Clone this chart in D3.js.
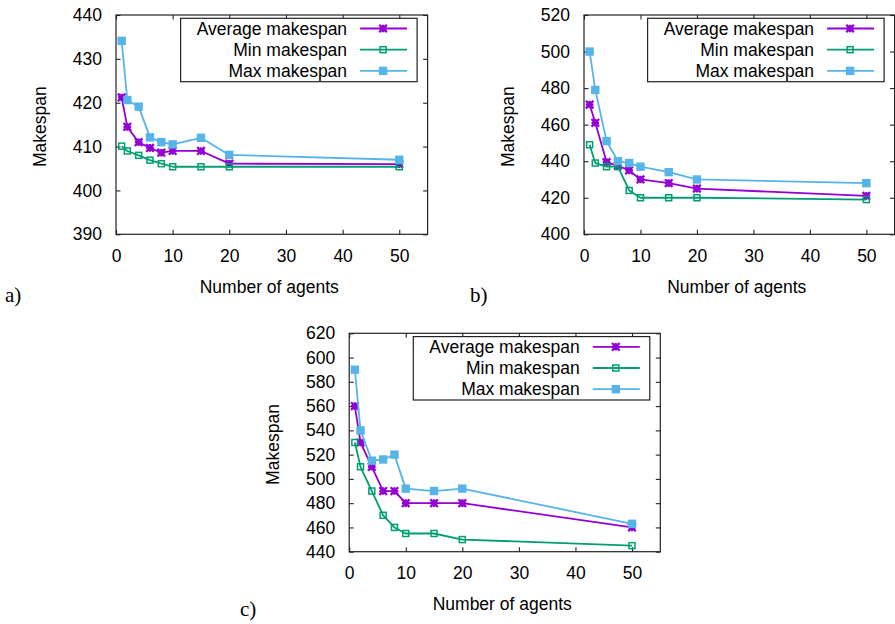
<!DOCTYPE html>
<html>
<head>
<meta charset="utf-8">
<script src="https://cdn.jsdelivr.net/npm/d3@7"></script>
<style>
  html, body { margin: 0; padding: 0; background: #ffffff; }
  svg { display: block; }
  text { font-family: "Liberation Sans", Arial, sans-serif; fill: #000; }
</style>
</head>
<body>
<svg id="chart" width="895" height="624"></svg>
<script>
// ---------------- DATA ----------------
const agents = [1, 2, 4, 6, 8, 10, 15, 20, 50];
const xTicks = [0, 10, 20, 30, 40, 50];
const seriesNames = ["Average makespan", "Min makespan", "Max makespan"];

// panel a
const avgA = [421.2, 414.5, 411.0, 409.7, 408.6, 409.0, 409.0, 406.1, 406.0];
const minA = [410.1, 409.0, 408.0, 406.9, 406.1, 405.4, 405.4, 405.4, 405.4];
const maxA = [434.1, 420.6, 419.1, 412.1, 411.0, 410.5, 412.0, 408.1, 407.0];
const yTicksA = [390, 400, 410, 420, 430, 440];

// panel b
const avgB = [471, 461, 439.5, 437.5, 435, 430, 428, 425, 421];
const minB = [449, 439, 437, 437, 424, 420, 420, 420, 419];
const maxB = [500, 479, 451, 440, 439, 437, 434, 430, 428];
const yTicksB = [400, 420, 440, 460, 480, 500, 520];

// panel c
const avgC = [560, 530, 510, 490, 490, 480, 480, 480, 460];
const minC = [530, 510, 490, 470, 460, 455, 455, 450, 445];
const maxC = [590, 540, 515, 516, 520, 492, 490, 492, 463];
const yTicksC = [440, 460, 480, 500, 520, 540, 560, 580, 600, 620];

const panelLabels = ["a)", "b)", "c)"];

// ---------------- STYLE ----------------
const colors = ["#9400d3", "#009e73", "#56b4e9"];
const markers = ["asterisk", "openSquare", "filledSquare"];
const FONT = 17.5;

const svg = d3.select("#chart");

function drawMarker(g, type, color) {
  if (type === "asterisk") {
    const r = 3.8;
    const p = `M${-r},0L${r},0M0,${-r}L0,${r}M${-r},${-r}L${r},${r}M${-r},${r}L${r},${-r}`;
    g.append("path").attr("d", p).attr("stroke", color).attr("stroke-width", 2.3).attr("fill", "none");
  } else if (type === "openSquare") {
    g.append("rect").attr("x", -3).attr("y", -3).attr("width", 6).attr("height", 6)
      .attr("fill", "none").attr("stroke", color).attr("stroke-width", 1.5);
  } else {
    g.append("rect").attr("x", -4.2).attr("y", -4.2).attr("width", 8.4).attr("height", 8.4)
      .attr("fill", color);
  }
}

function drawPanel(cfg) {
  const { x0, x1, y0, y1, yDomain, yTicks, series, label, labelPos } = cfg;
  const x = d3.scaleLinear().domain([0, 55]).range([x0, x1]);
  const y = d3.scaleLinear().domain(yDomain).range([y1, y0]);
  const g = svg.append("g");

  // axes with inward ticks
  const tick = 4.5;
  const left = g.append("g").attr("transform", `translate(${x0},0)`)
    .call(d3.axisLeft(y).tickValues(yTicks).tickSizeInner(-tick).tickSizeOuter(0).tickPadding(14));
  const right = g.append("g").attr("transform", `translate(${x1},0)`)
    .call(d3.axisRight(y).tickValues(yTicks).tickSizeInner(-tick).tickSizeOuter(0).tickFormat(""));
  const bottom = g.append("g").attr("transform", `translate(0,${y1})`)
    .call(d3.axisBottom(x).tickValues(xTicks).tickSizeInner(-tick).tickSizeOuter(0).tickPadding(15));
  const top = g.append("g").attr("transform", `translate(0,${y0})`)
    .call(d3.axisTop(x).tickValues(xTicks).tickSizeInner(-tick).tickSizeOuter(0).tickFormat(""));
  [left, right, bottom, top].forEach(a => {
    a.select(".domain").remove();
    a.selectAll("line").attr("stroke", "#222").attr("stroke-width", 1.1);
    a.selectAll("text").attr("font-size", FONT).attr("font-family", "'Liberation Sans', Arial, sans-serif").attr("fill", "#000");
  });

  // frame
  g.append("rect").attr("x", x0).attr("y", y0).attr("width", x1 - x0).attr("height", y1 - y0)
    .attr("fill", "none").attr("stroke", "#222").attr("stroke-width", 1.2);

  // series
  const line = d3.line().x(d => x(d[0])).y(d => y(d[1]));
  series.forEach((vals, i) => {
    const pts = agents.map((a, k) => [a, vals[k]]);
    g.append("path").datum(pts).attr("d", line)
      .attr("fill", "none").attr("stroke", colors[i]).attr("stroke-width", 1.8).attr("stroke-linejoin", "round");
    pts.forEach(p => {
      const m = g.append("g").attr("transform", `translate(${x(p[0])},${y(p[1])})`);
      drawMarker(m, markers[i], colors[i]);
    });
  });

  // legend
  const lr = x1 - 10.5, lt = y0 + 3.3;
  const lw = 236.5, lh = 63.4;
  g.append("rect").attr("x", lr - lw).attr("y", lt).attr("width", lw).attr("height", lh)
    .attr("fill", "#fff").attr("stroke", "#222").attr("stroke-width", 1.2);
  seriesNames.forEach((name, i) => {
    const ry = lt + 10.2 + i * 21.2;
    g.append("text").attr("x", lr - 70).attr("y", ry).attr("dy", "0.35em")
      .attr("text-anchor", "end").attr("font-size", FONT).text(name);
    g.append("line").attr("x1", lr - 57).attr("x2", lr - 10).attr("y1", ry).attr("y2", ry)
      .attr("stroke", colors[i]).attr("stroke-width", 1.8);
    const m = g.append("g").attr("transform", `translate(${lr - 34},${ry})`);
    drawMarker(m, markers[i], colors[i]);
  });

  // axis titles
  g.append("text").attr("x", (x0 + x1) / 2 - 2.5).attr("y", y1 + 52.5).attr("dy", "0.35em")
    .attr("text-anchor", "middle").attr("font-size", FONT).text("Number of agents");
  g.append("text").attr("transform", `translate(${x0 - 76},${(y0 + y1) / 2 + 2}) rotate(-90)`)
    .attr("dy", "0.35em").attr("text-anchor", "middle").attr("font-size", FONT).text("Makespan");

  // panel label
  g.append("text").attr("x", labelPos[0]).attr("y", labelPos[1])
    .style("font-family", "'Liberation Serif', 'DejaVu Serif', serif")
    .attr("font-size", 21).text(label);
}

drawPanel({ x0: 116, x1: 427.6, y0: 15, y1: 234.3, yDomain: [390, 440], yTicks: yTicksA,
  series: [avgA, minA, maxA], label: panelLabels[0], labelPos: [5, 302] });
drawPanel({ x0: 584, x1: 894.6, y0: 15, y1: 234.3, yDomain: [400, 520], yTicks: yTicksB,
  series: [avgB, minB, maxB], label: panelLabels[1], labelPos: [470, 302] });
drawPanel({ x0: 349.2, x1: 660.3, y0: 333.3, y1: 551.7, yDomain: [440, 620], yTicks: yTicksC,
  series: [avgC, minC, maxC], label: panelLabels[2], labelPos: [240, 616] });
</script>
</body>
</html>
